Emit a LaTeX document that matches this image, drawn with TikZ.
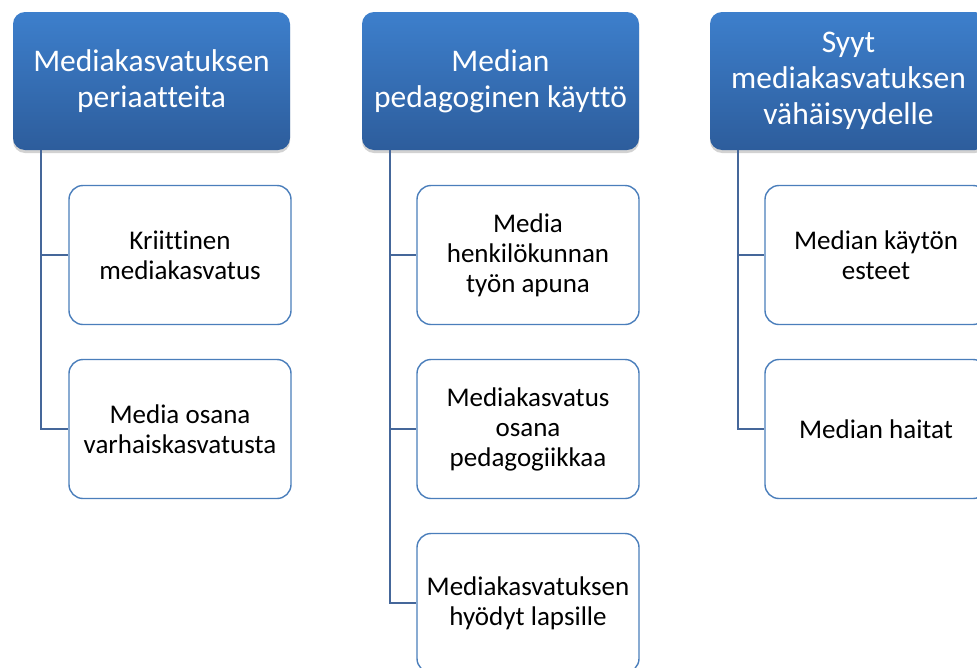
\documentclass[tikz,border=0pt]{standalone}
\usepackage{fontspec}
\setmainfont[Ligatures=NoCommon]{Carlito}
\usetikzlibrary{shadows}
\definecolor{hdtop}{HTML}{3D7FCC}
\definecolor{hdbot}{HTML}{2D5D9C}
\definecolor{boxline}{HTML}{4A7EBB}
\definecolor{linkline}{HTML}{45679A}
\begin{document}
\begin{tikzpicture}[
            x=1pt,
            y=-1pt,
            header/.style={rectangle, rounded corners=12pt, minimum width=277pt, minimum height=138pt,
                top color=hdtop, bottom color=hdbot, draw=none, text=white, align=center,
                font=\fontsize{31.5}{36}\selectfont, inner sep=2pt,
                drop shadow={shadow xshift=0pt, shadow yshift=-3pt, opacity=0.35}},
            item/.style={rectangle, rounded corners=14pt, minimum width=222pt, minimum height=139pt,
                draw=boxline, line width=1.4pt, fill=white, text=black, align=center,
                font=\fontsize{27}{30}\selectfont, inner sep=2pt},
            conn/.style={draw=linkline, line width=1.5pt}
        ]
        \clip (0,0) rectangle (977,667);
        \fill[white] (0,0) rectangle (977,667);
        \node[header] (h1) at (151.5,81) {Mediakasvatuksen\\periaatteita};
        \node[header] (h2) at (500.5,81) {Median\\pedagoginen käyttö};
        \node[header] (h3) at (848.5,81) {Syyt\\mediakasvatuksen\\vähäisyydelle};
        \node[item] (c1_1) at (180,255) {Kriittinen\\mediakasvatus};
        \node[item] (c1_2) at (180,429) {Media osana\\varhaiskasvatusta};
        \node[item] (c2_1) at (528,255) {Media\\henkilökunnan\\työn apuna};
        \node[item] (c2_2) at (528,429) {Mediakasvatus\\osana\\pedagogiikkaa};
        \node[item] (c2_3) at (528,603) {Mediakasvatuksen\\hyödyt lapsille};
        \node[item] (c3_1) at (876,255) {Median käytön\\esteet};
        \node[item] (c3_2) at (876,429) {Median haitat};
        \foreach \j in {1,2} {
            \draw[conn] ([xshift=28pt]h1.south west) |- (c1_\j.west);
            \draw[conn] ([xshift=28pt]h3.south west) |- (c3_\j.west);
        }
        \foreach \j in {1,2,3} {
            \draw[conn] ([xshift=28pt]h2.south west) |- (c2_\j.west);
        }
    \end{tikzpicture}
\end{document}
